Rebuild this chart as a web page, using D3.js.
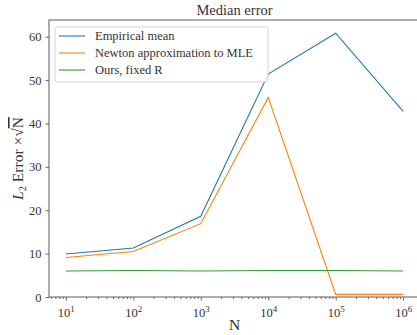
<!DOCTYPE html>
<meta charset='utf-8'>
<style>
  body { margin: 0; background: #fff; }
  svg, svg text { font-family: 'Liberation Serif', serif; }
  .axis path, .axis line { stroke: #666; }
  .axis text { fill: #333; }
</style>
<body>
<script src='https://d3js.org/d3.v7.min.js'></script>
<script>
  // sample sizes and median error per method
  const N = [1e1, 1e2, 1e3, 1e4, 1e5, 1e6]
  const empirical = [9.9, 11.3, 18.6, 51.4, 60.8, 42.8]
  const newton = [9.1, 10.5, 16.9, 46.0, 0.6, 0.6]
  const ours = [6.0, 6.1, 6.0, 6.1, 6.1, 6.0]
  const seriesNames = ['Empirical mean', 'Newton approximation to MLE', 'Ours, fixed R']
  const yTicks = [0, 10, 20, 30, 40, 50, 60]

  const colors = ['#1f77b4', '#ff7f0e', '#2ca02c']
  const W = 417, H = 335
  const m = {left: 49, right: 420, top: 20, bottom: 297}

  const x = d3.scaleLog().domain([Math.pow(10, 0.75), Math.pow(10, 6.25)]).range([m.left, m.right])
  const y = d3.scaleLinear().domain([0, 63.85]).range([m.bottom, m.top])

  const svg = d3.select('body').append('svg')
    .attr('width', W).attr('height', H)

  // frame
  svg.append('rect')
    .attr('x', m.left).attr('y', m.top)
    .attr('width', m.right - m.left).attr('height', m.bottom - m.top)
    .attr('fill', 'none').attr('stroke', '#777').attr('stroke-width', 1.2)

  // minor x ticks
  const minor = []
  for (let e = 0; e <= 6; e++) for (let k = 2; k <= 9; k++) {
    const v = k * Math.pow(10, e)
    if (v > x.domain()[0] && v < x.domain()[1]) minor.push(v)
  }
  svg.append('g').attr('class', 'axis')
    .attr('transform', `translate(0,${m.bottom})`)
    .call(d3.axisBottom(x).tickValues(minor).tickSize(2).tickFormat(''))
    .call(g => g.select('.domain').remove())

  const xg = svg.append('g').attr('class', 'axis')
    .attr('transform', `translate(0,${m.bottom})`)
    .call(d3.axisBottom(x).tickValues(N).tickSize(3.5).tickFormat(''))
  xg.attr('font-family', null)
  xg.select('.domain').remove()
  xg.selectAll('.tick').append('text')
    .attr('y', 20).attr('text-anchor', 'middle')
    .style('font-size', '12.5px')
    .each(function(d) {
      const t = d3.select(this)
      t.append('tspan').text('10')
      t.append('tspan').attr('dy', -5).style('font-size', '9px').text(Math.round(Math.log10(d)))
    })

  const yg = svg.append('g').attr('class', 'axis')
    .attr('transform', `translate(${m.left},0)`)
    .call(d3.axisLeft(y).tickValues(yTicks).tickSize(3.5).tickPadding(4))
  yg.attr('font-family', null)
  yg.select('.domain').remove()
  yg.selectAll('text').style('font-size', '12.5px')

  // lines
  const line = d3.line().x((d, i) => x(N[i])).y(d => y(d))
  const allSeries = [empirical, newton, ours]
  allSeries.forEach((s, k) => {
    svg.append('path').datum(s)
      .attr('d', line)
      .attr('fill', 'none')
      .attr('stroke', colors[k])
      .attr('stroke-width', 1.1)
  })

  // legend
  const lg = svg.append('g').attr('transform', 'translate(55,27)')
  lg.append('rect')
    .attr('width', 213).attr('height', 55).attr('rx', 2)
    .attr('fill', 'white').attr('fill-opacity', 0.8)
    .attr('stroke', '#ccc').attr('stroke-width', 0.8)
  seriesNames.forEach((name, k) => {
    const yy = 9 + k * 17
    lg.append('line').attr('x1', 4).attr('x2', 30).attr('y1', yy).attr('y2', yy)
      .attr('stroke', colors[k]).attr('stroke-width', 1.1)
    lg.append('text').attr('x', 40).attr('y', yy + 4)
      .style('font-size', '12.5px').attr('fill', '#333').text(name)
  })

  // title and axis labels
  svg.append('text').attr('x', (m.left + m.right) / 2).attr('y', 15)
    .attr('text-anchor', 'middle').style('font-size', '14.5px').attr('fill', '#333')
    .text('Median error')

  svg.append('text').attr('x', (m.left + m.right) / 2).attr('y', 330)
    .attr('text-anchor', 'middle').style('font-size', '15.5px').attr('fill', '#333')
    .text('N')

  const yl = svg.append('text')
    .attr('transform', `translate(23,${(m.top + m.bottom) / 2}) rotate(-90)`)
    .attr('text-anchor', 'middle').style('font-size', '15.5px').attr('fill', '#333')
  yl.append('tspan').style('font-style', 'italic').text('L')
  yl.append('tspan').attr('dy', 3).style('font-size', '10.5px').text('2')
  yl.append('tspan').attr('dy', -3).text(' Error ×√')
  yl.append('tspan').style('text-decoration', 'overline').text('N')
</script>
</body>
